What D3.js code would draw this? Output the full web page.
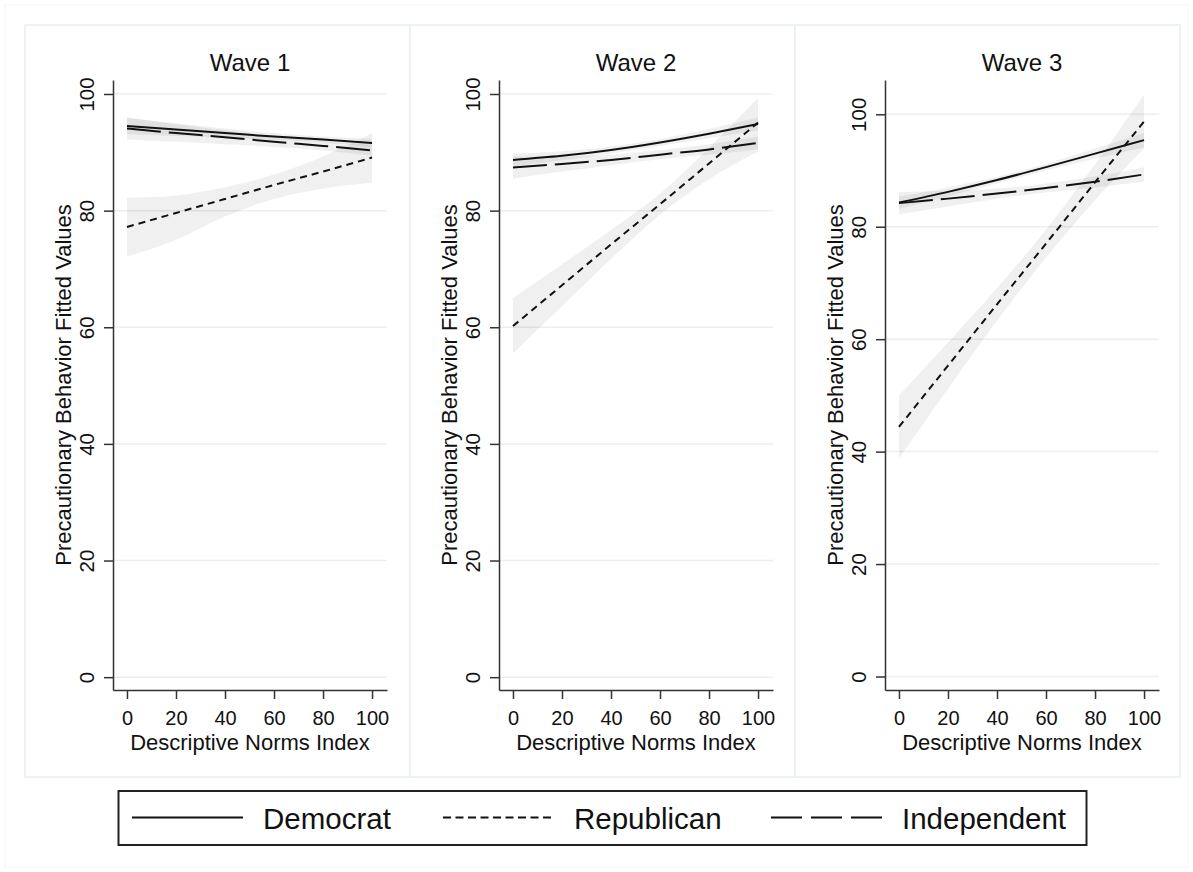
<!DOCTYPE html>
<html>
<head>
<meta charset="utf-8">
<script src="https://cdn.jsdelivr.net/npm/d3@7"></script>
<style>
  body { margin: 0; background: #fff; }
  svg { display: block; font-family: "Liberation Sans", Arial, sans-serif; }
</style>
</head>
<body>
<div id="chart"></div>
<script>
// facets and x positions of the fitted values
var waves = ["Wave 1", "Wave 2", "Wave 3"];
var parties = ["Democrat", "Republican", "Independent"];
var normIndex = [0, 20, 40, 60, 80, 100];
var xTicks = [0, 20, 40, 60, 80, 100];
var yTicks = [0, 20, 40, 60, 80, 100];
var yRanges = [[-2.2, 102.4], [-2.2, 102.4], [-2.4, 106.1]];

// fitted values and 95% CI, one row per wave
var demFit = [[94.5, 93.9, 93.3, 92.7, 92.2, 91.6], [88.7, 89.4, 90.4, 91.7, 93.2, 94.85], [84.3, 86.2, 88.3, 90.6, 93.0, 95.4]];
var demLo  = [[93.1, 92.8, 92.5, 92.1, 91.7, 90.9], [87.6, 88.6, 89.8, 91.1, 92.4, 93.75], [83.2, 85.4, 87.7, 90.0, 92.1, 94.1]];
var demHi  = [[95.9, 95.0, 94.1, 93.3, 92.7, 92.3], [89.8, 90.2, 91.0, 92.3, 94.0, 95.95], [85.4, 87.0, 88.9, 91.2, 93.9, 96.7]];

var repFit = [[77.2, 79.6, 82.0, 84.4, 86.7, 89.1], [60.2, 67.2, 74.2, 81.1, 88.1, 95.1], [44.4, 55.3, 66.2, 77.0, 87.9, 98.7]];
var repLo  = [[72.1, 75.0, 79.0, 82.0, 83.8, 84.8], [55.5, 63.6, 71.7, 79.3, 85.4, 90.1], [38.8, 51.2, 63.3, 74.5, 84.7, 93.9]];
var repHi  = [[82.2, 82.6, 84.0, 86.2, 89.3, 93.3], [65.0, 70.8, 76.7, 82.9, 90.8, 99.3], [50.0, 59.4, 69.1, 79.5, 91.1, 103.5]];

var indFit = [[94.1, 93.3, 92.6, 91.8, 91.1, 90.3], [87.4, 88.0, 88.7, 89.6, 90.5, 91.6], [84.2, 85.0, 85.9, 86.9, 88.0, 89.3]];
var indLo  = [[92.2, 91.8, 91.4, 90.9, 90.3, 89.4], [85.5, 86.7, 87.8, 88.8, 89.6, 90.5], [82.2, 83.6, 85.0, 86.1, 87.0, 88.0]];
var indHi  = [[96.0, 94.8, 93.8, 92.7, 91.9, 91.2], [89.3, 89.3, 89.6, 90.4, 91.4, 92.7], [86.2, 86.4, 86.8, 87.7, 89.0, 90.6]];

var width = 1193, height = 872;
var panelW = 385;
var plot = {left: 88, width: 274, top: 80, bottom: 690};
var styles = {
    Democrat: null,
    Republican: "7,5",
    Independent: "34,8"
};
var legendDash = {Democrat: null, Republican: "8,4.5", Independent: "31,9"};

var svg = d3.select("#chart").append("svg")
    .attr("width", width)
    .attr("height", height);

// faint outer frame
svg.append("rect")
    .attr("x", 5).attr("y", 5)
    .attr("width", width - 10).attr("height", height - 10)
    .attr("fill", "none").attr("stroke", "#f3f5f5").attr("stroke-width", 1);

var seriesFor = function (w) {
    return [
        {name: "Democrat", fit: demFit[w], lo: demLo[w], hi: demHi[w]},
        {name: "Republican", fit: repFit[w], lo: repLo[w], hi: repHi[w]},
        {name: "Independent", fit: indFit[w], lo: indLo[w], hi: indHi[w]}
    ];
};

waves.forEach(function (wave, w) {
    var x0 = 25 + w * panelW;
    var g = svg.append("g").attr("transform", "translate(" + x0 + ",0)");

    g.append("rect")
        .attr("x", 0).attr("y", 25)
        .attr("width", panelW).attr("height", 752)
        .attr("fill", "#fff").attr("stroke", "#e7eff1").attr("stroke-width", 1.5);

    var x = d3.scaleLinear()
        .domain([-5.7, 106.1])
        .range([plot.left + w, plot.left + w + plot.width]);
    var y = d3.scaleLinear()
        .domain(yRanges[w])
        .range([plot.bottom, plot.top]);

    // gridlines
    g.append("g").selectAll("line")
        .data(yTicks)
        .join("line")
        .attr("x1", x.range()[0]).attr("x2", x.range()[1])
        .attr("y1", function (d) { return y(d); })
        .attr("y2", function (d) { return y(d); })
        .attr("stroke", "#e8f0f2").attr("stroke-width", 1.5);

    var series = seriesFor(w);

    var area = d3.area()
        .curve(d3.curveMonotoneX)
        .x(function (d, i) { return x(normIndex[i]); })
        .y0(function (d) { return y(d[0]); })
        .y1(function (d) { return y(d[1]); });

    var line = d3.line()
        .curve(d3.curveMonotoneX)
        .x(function (d, i) { return x(normIndex[i]); })
        .y(function (d) { return y(d); });

    g.append("g").selectAll("path")
        .data(series)
        .join("path")
        .attr("d", function (s) { return area(s.lo.map(function (v, i) { return [v, s.hi[i]]; })); })
        .attr("fill", "#000")
        .attr("fill-opacity", 0.06);

    g.append("g").selectAll("path")
        .data(series)
        .join("path")
        .attr("d", function (s) { return line(s.fit); })
        .attr("fill", "none")
        .attr("stroke", "#111")
        .attr("stroke-width", 2)
        .attr("stroke-dasharray", function (s) { return styles[s.name]; });

    // axes
    var yAxis = g.append("g")
        .attr("transform", "translate(" + x.range()[0] + ",0)")
        .call(d3.axisLeft(y).tickValues(yTicks).tickSize(9).tickSizeOuter(0));
    yAxis.selectAll("text")
        .attr("x", null).attr("dy", "0.35em")
        .attr("transform", "translate(-26,0) rotate(-90)")
        .attr("text-anchor", "middle")
        .attr("font-size", 20.5).attr("font-family", "Liberation Sans, Arial, sans-serif")
        .attr("fill", "#111");

    var xAxis = g.append("g")
        .attr("transform", "translate(0," + plot.bottom + ")")
        .call(d3.axisBottom(x).tickValues(xTicks).tickSize(9).tickSizeOuter(0).tickPadding(12));
    xAxis.selectAll("text")
        .attr("font-size", 20).attr("font-family", "Liberation Sans, Arial, sans-serif")
        .attr("fill", "#111");

    g.selectAll(".domain, .tick line")
        .attr("stroke", "#333").attr("stroke-width", 1.5);

    var cx = (x.range()[0] + x.range()[1]) / 2;

    g.append("text")
        .attr("x", cx).attr("y", 71)
        .attr("text-anchor", "middle")
        .attr("font-size", 24).attr("fill", "#111")
        .text(wave);

    g.append("text")
        .attr("x", cx).attr("y", 750)
        .attr("text-anchor", "middle")
        .attr("font-size", 22).attr("fill", "#111")
        .text("Descriptive Norms Index");

    g.append("text")
        .attr("transform", "translate(" + (x.range()[0] - 49.5) + "," + ((plot.top + plot.bottom) / 2) + ") rotate(-90)")
        .attr("dy", "0.35em")
        .attr("text-anchor", "middle")
        .attr("font-size", 22).attr("fill", "#111")
        .text("Precautionary Behavior Fitted Values");
});

// legend
var legend = svg.append("g");
legend.append("rect")
    .attr("x", 118.5).attr("y", 791)
    .attr("width", 968).attr("height", 54)
    .attr("fill", "#fff").attr("stroke", "#222").attr("stroke-width", 2);

var keyX = [132, 443, 771];
parties.forEach(function (p, i) {
    legend.append("line")
        .attr("x1", keyX[i]).attr("x2", keyX[i] + 111)
        .attr("y1", 817.5).attr("y2", 817.5)
        .attr("stroke", "#111").attr("stroke-width", 2)
        .attr("stroke-dasharray", legendDash[p]);
    legend.append("text")
        .attr("x", keyX[i] + 131).attr("y", 829)
        .attr("font-size", 29.5).attr("fill", "#111")
        .text(p);
});
</script>
</body>
</html>
